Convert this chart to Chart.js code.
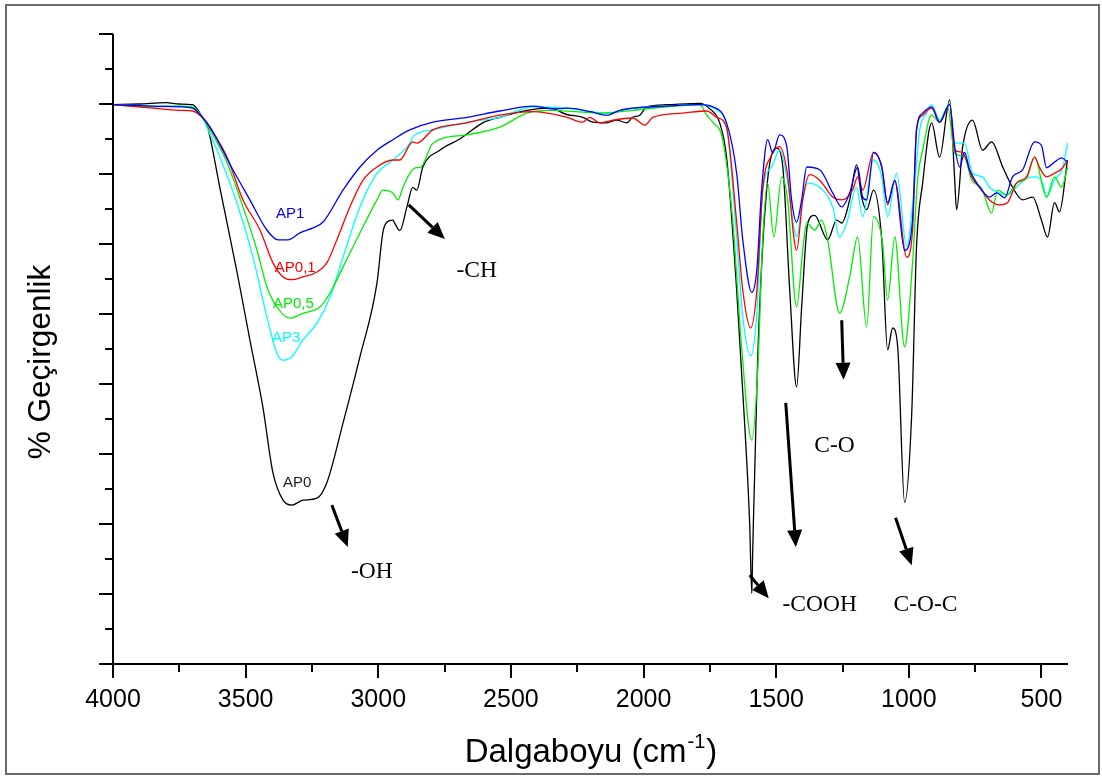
<!DOCTYPE html>
<html><head><meta charset="utf-8">
<script src="https://cdn.jsdelivr.net/npm/chart.js@4/dist/chart.umd.min.js"></script>
<style>html,body{margin:0;padding:0;background:#fff}canvas{display:block}</style>
</head><body>
<canvas id="c" width="1102" height="776"></canvas>
<script>
// ---- data: [wavenumber (cm-1), transmittance (arb. %)] ----
const seriesNames = ["AP1", "AP0,1", "AP0,5", "AP3", "AP0"];
const seriesColors = ["#0000ff", "#ff0000", "#00ee00", "#00ffff", "#000000"];

const AP1 = [[4000,79.9],[3850,79.7],[3750,79.6],[3700,79.4],[3661,78.0],[3634,76.7],[3548,70.6],[3484,66.3],[3420,62.0],[3378,60.6],[3341,60.6],[3295,61.6],[3246,62.3],[3209,63.1],[3133,67.7],[3069,71.0],[3005,73.4],[2945,74.9],[2881,76.3],[2794,77.4],[2666,78.1],[2542,79.0],[2417,79.7],[2340,79.3],[2289,79.4],[2200,78.9],[2139,78.4],[2090,79.1],[2041,79.4],[1913,79.7],[1788,79.9],[1739,79.6],[1687,77.3],[1649,70.1],[1626,60.6],[1592,53.1],[1573,56.3],[1555,67.7],[1532,74.9],[1513,73.0],[1487,75.6],[1460,73.9],[1442,66.3],[1423,63.1],[1404,66.3],[1385,71.0],[1336,70.6],[1287,67.3],[1253,65.3],[1223,67.3],[1193,71.0],[1174,66.7],[1159,66.3],[1133,73.1],[1102,71.0],[1080,65.9],[1053,69.1],[1016,59.1],[986,63.4],[971,76.3],[948,78.7],[914,79.6],[884,77.4],[846,79.9],[827,73.9],[808,71.0],[790,73.1],[771,70.6],[733,68.1],[696,66.7],[669,67.3],[639,66.6],[609,69.6],[571,70.6],[526,74.6],[500,74.1],[481,70.9],[451,71.7],[424,72.3],[402,71.7]];

const AP01 = [[4000,79.9],[3850,79.4],[3750,79.1],[3700,79.0],[3661,78.0],[3634,76.6],[3570,72.4],[3510,66.3],[3446,62.0],[3397,57.3],[3359,55.3],[3326,54.9],[3284,55.3],[3231,56.0],[3194,57.3],[3156,60.6],[3107,65.3],[3058,69.1],[3005,71.0],[2945,72.0],[2919,72.0],[2870,74.6],[2855,74.4],[2794,76.3],[2666,77.3],[2542,78.4],[2417,78.9],[2289,78.1],[2229,77.4],[2203,78.1],[2165,77.3],[2116,77.7],[2041,78.0],[1995,77.0],[1965,78.1],[1852,78.7],[1762,79.0],[1724,78.1],[1687,76.6],[1649,63.1],[1626,53.4],[1596,48.0],[1573,53.4],[1551,67.7],[1517,72.7],[1487,73.9],[1460,70.6],[1423,59.1],[1400,66.3],[1374,69.9],[1336,69.1],[1287,66.7],[1253,66.3],[1212,67.7],[1193,69.6],[1174,67.7],[1133,73.1],[1102,71.0],[1080,65.6],[1053,69.1],[1008,58.1],[986,62.0],[971,76.3],[948,78.4],[914,79.4],[884,77.4],[846,79.9],[827,73.4],[797,73.1],[763,69.6],[733,68.1],[696,66.3],[658,65.6],[628,65.9],[594,68.7],[556,69.6],[526,72.4],[507,70.9],[481,69.6],[451,70.1],[420,70.9],[402,72.0]];

const AP05 = [[4000,79.9],[3850,79.6],[3750,79.7],[3700,79.6],[3661,78.0],[3634,76.3],[3570,71.6],[3510,65.3],[3457,59.1],[3420,53.9],[3382,51.0],[3333,49.4],[3284,50.1],[3220,51.0],[3182,53.0],[3133,56.7],[3069,61.6],[3005,66.3],[2983,67.7],[2945,67.3],[2926,66.3],[2907,68.1],[2881,70.1],[2855,70.9],[2843,70.9],[2794,74.4],[2666,75.6],[2542,76.7],[2440,78.7],[2353,79.1],[2165,78.7],[2041,79.1],[1913,79.6],[1788,79.9],[1762,78.4],[1739,77.4],[1702,74.9],[1664,63.4],[1631,45.6],[1592,32.0],[1570,41.6],[1551,60.6],[1532,68.7],[1509,61.0],[1479,69.6],[1457,66.3],[1423,51.0],[1400,59.1],[1385,63.0],[1355,62.0],[1329,63.4],[1306,60.6],[1261,50.1],[1223,55.3],[1193,61.0],[1159,48.1],[1133,63.9],[1099,60.1],[1080,52.0],[1053,61.0],[1016,45.3],[986,57.3],[967,69.1],[948,73.4],[914,78.4],[884,77.4],[854,79.6],[827,73.0],[790,72.4],[763,69.1],[726,68.0],[688,64.4],[665,67.7],[631,67.0],[594,68.7],[556,69.4],[526,72.4],[481,66.7],[451,69.6],[424,68.1],[402,70.9]];

const AP3 = [[4000,79.9],[3850,79.7],[3750,79.7],[3700,79.4],[3661,78.0],[3646,76.7],[3597,72.4],[3533,65.9],[3472,58.1],[3420,49.6],[3382,44.4],[3359,43.4],[3326,43.9],[3284,46.3],[3231,48.7],[3182,52.4],[3133,58.1],[3069,65.3],[3005,70.1],[2945,72.0],[2881,74.4],[2870,75.3],[2794,76.3],[2666,77.4],[2542,78.1],[2417,79.6],[2289,79.4],[2139,78.7],[2041,79.4],[1913,79.7],[1788,79.9],[1724,79.1],[1687,76.7],[1649,61.0],[1626,49.6],[1596,44.0],[1573,50.1],[1551,67.7],[1517,71.0],[1487,73.4],[1460,69.6],[1423,61.0],[1400,66.3],[1381,68.7],[1336,68.1],[1287,65.3],[1261,61.0],[1234,63.0],[1197,68.1],[1174,63.9],[1133,72.0],[1102,69.6],[1080,63.9],[1046,70.1],[1008,59.6],[978,68.7],[959,76.3],[933,78.7],[914,79.9],[884,77.7],[846,80.1],[827,74.4],[790,74.4],[760,70.1],[722,69.6],[696,68.1],[658,67.3],[631,67.0],[594,68.1],[556,69.4],[518,69.6],[496,68.7],[481,66.7],[451,69.1],[420,70.9],[402,74.4]];

const AP0 = [[4000,79.9],[3900,80.0],[3800,80.2],[3750,80.0],[3700,79.9],[3661,78.0],[3646,77.1],[3597,68.0],[3533,56.1],[3484,46.3],[3435,36.7],[3397,27.3],[3359,23.4],[3326,22.7],[3284,23.4],[3231,23.7],[3194,25.9],[3133,34.4],[3069,43.9],[3005,54.4],[2983,61.6],[2968,63.1],[2945,63.4],[2937,62.9],[2919,61.9],[2892,65.3],[2870,68.1],[2855,67.7],[2832,71.0],[2768,73.4],[2693,75.0],[2606,77.3],[2542,78.1],[2440,79.1],[2353,79.4],[2289,78.5],[2229,78.1],[2191,77.4],[2139,77.3],[2101,77.7],[2063,77.3],[2041,78.1],[2014,78.4],[1988,79.6],[1913,79.9],[1788,80.1],[1750,79.3],[1713,77.3],[1687,72.4],[1649,53.4],[1619,34.4],[1600,20.1],[1592,10.1],[1589,15.3],[1570,43.4],[1536,67.7],[1498,73.7],[1475,71.0],[1449,53.4],[1423,39.6],[1404,51.0],[1381,63.0],[1355,64.1],[1306,60.6],[1272,63.4],[1253,63.0],[1223,66.3],[1197,71.3],[1178,66.7],[1159,64.9],[1133,67.7],[1102,60.6],[1080,44.9],[1061,48.0],[1042,45.3],[1016,23.1],[989,35.9],[971,59.6],[948,68.7],[914,77.3],[884,72.4],[846,80.6],[827,69.1],[820,64.9],[797,73.9],[760,77.7],[722,73.4],[688,74.6],[646,71.0],[609,68.1],[571,66.3],[533,66.7],[500,63.4],[477,61.0],[451,65.9],[432,64.6],[402,72.0]];

const xMajorTicks = [4000, 3500, 3000, 2500, 2000, 1500, 1000, 500];
const xMinorTicks = [3750, 3250, 2750, 2250, 1750, 1250, 750];
const yMajorTicks = [0, 10, 20, 30, 40, 50, 60, 70, 80, 90];
const yMinorTicks = [5, 15, 25, 35, 45, 55, 65, 75, 85];

// series labels [text, wavenumber, value]
const seriesLabels = [["AP1",3386,63.7],["AP0,1",3390,56.0],["AP0,5",3397,50.9],["AP3",3401,46.0],["AP0",3359,25.3]];
// group labels [text, wavenumber (center), value (baseline)]
const groupLabels = [["-CH",2629,55.3],["-OH",3024,12.3],["C-O",1280,30.3],["-COOH",1336,7.6],["C-O-C",937,7.6]];
// arrows [fromWn, fromVal, toWn, toVal]
const arrows = [[2885,65.6,2749,60.7],[3175,22.7,3115,16.7],[1253,49.1,1246,40.6],[1464,37.3,1426,16.7],[1600,12.7,1528,9.4],[1050,20.9,989,14.1]];

const allSeries = [AP1, AP01, AP05, AP3, AP0];

const deco = {
  id: 'deco',
  beforeDraw(chart) {
    const c = chart.ctx;
    c.save(); c.fillStyle = '#fff'; c.fillRect(0, 0, chart.width, chart.height); c.restore();
  },
  afterDraw(chart) {
    const c = chart.ctx, xs = chart.scales.x, ys = chart.scales.y, a = chart.chartArea;
    c.save();
    // frame
    c.strokeStyle = '#6a6a6a'; c.lineWidth = 2;
    c.strokeRect(6, 5, 1093, 769);
    // axes
    c.strokeStyle = '#000'; c.lineWidth = 2;
    c.beginPath();
    c.moveTo(a.left, a.top); c.lineTo(a.left, a.bottom); c.lineTo(a.right, a.bottom);
    yMajorTicks.forEach(v => { const p = Math.round(ys.getPixelForValue(v)); c.moveTo(a.left - 14, p); c.lineTo(a.left, p); });
    yMinorTicks.forEach(v => { const p = Math.round(ys.getPixelForValue(v)); c.moveTo(a.left - 8, p); c.lineTo(a.left, p); });
    xMajorTicks.forEach(v => { const p = Math.round(xs.getPixelForValue(v)); c.moveTo(p, a.bottom); c.lineTo(p, a.bottom + 14); });
    xMinorTicks.forEach(v => { const p = Math.round(xs.getPixelForValue(v)); c.moveTo(p, a.bottom); c.lineTo(p, a.bottom + 8); });
    c.stroke();
    // x tick labels
    c.fillStyle = '#000';
    c.font = '25px "Liberation Sans", Arial, sans-serif';
    c.textAlign = 'center'; c.textBaseline = 'alphabetic';
    xMajorTicks.forEach(v => c.fillText(String(v), xs.getPixelForValue(v), a.bottom + 43));
    // x title with superscript
    const t1 = 'Dalgaboyu (cm', t2 = '-1', t3 = ')';
    const fBig = '33px "Liberation Sans", Arial, sans-serif', fSm = '20px "Liberation Sans", Arial, sans-serif';
    c.font = fBig; const w1 = c.measureText(t1).width, w3 = c.measureText(t3).width;
    c.font = fSm; const w2 = c.measureText(t2).width;
    let x0 = 590 - (w1 + w2 + w3) / 2; const by = 762;
    c.textAlign = 'left';
    c.font = fBig; c.fillText(t1, x0, by);
    c.font = fSm; c.fillText(t2, x0 + w1 + 1, by - 14);
    c.font = fBig; c.fillText(t3, x0 + w1 + w2 + 2, by);
    // y title
    c.save();
    c.translate(41, 362); c.rotate(-Math.PI / 2);
    c.font = '31.5px "Liberation Sans", Arial, sans-serif';
    c.textAlign = 'center'; c.textBaseline = 'middle';
    c.fillText('% Geçirgenlik', 0, 0);
    c.restore();
    // series labels
    c.font = '15px "Liberation Sans", Arial, sans-serif';
    c.textAlign = 'left';
    seriesLabels.forEach((s, i) => {
      c.fillStyle = i === 4 ? '#222' : seriesColors[i];
      c.fillText(s[0], xs.getPixelForValue(s[1]), ys.getPixelForValue(s[2]));
    });
    // group labels
    c.fillStyle = '#000';
    c.font = '23.5px "Liberation Serif", "Times New Roman", serif';
    c.textAlign = 'center';
    groupLabels.forEach(g => c.fillText(g[0], xs.getPixelForValue(g[1]), ys.getPixelForValue(g[2])));
    // arrows
    arrows.forEach(ar => {
      const x1 = xs.getPixelForValue(ar[0]), y1 = ys.getPixelForValue(ar[1]);
      const x2 = xs.getPixelForValue(ar[2]), y2 = ys.getPixelForValue(ar[3]);
      const ang = Math.atan2(y2 - y1, x2 - x1), L = 17, W = 7.5;
      const bx = x2 - L * Math.cos(ang), by2 = y2 - L * Math.sin(ang);
      c.strokeStyle = '#000'; c.lineWidth = 3;
      c.beginPath(); c.moveTo(x1, y1); c.lineTo(bx, by2); c.stroke();
      c.beginPath();
      c.moveTo(x2, y2);
      c.lineTo(bx + W * Math.sin(ang), by2 - W * Math.cos(ang));
      c.lineTo(bx - W * Math.sin(ang), by2 + W * Math.cos(ang));
      c.closePath(); c.fill();
    });
    c.restore();
  }
};

new Chart(document.getElementById('c'), {
  type: 'line',
  data: {
    datasets: allSeries.map((s, i) => ({
      label: seriesNames[i],
      data: s.map(p => ({ x: p[0], y: p[1] })),
      borderColor: seriesColors[i],
      borderWidth: 1.3,
      pointRadius: 0,
      fill: false,
      cubicInterpolationMode: 'monotone'
    }))
  },
  options: {
    responsive: false,
    animation: false,
    devicePixelRatio: 1,
    layout: { padding: { left: 113, right: 34, top: 34, bottom: 112 } },
    scales: {
      x: { type: 'linear', min: 400, max: 4000, reverse: true, display: false },
      y: { type: 'linear', min: 0, max: 90, display: false }
    },
    plugins: { legend: { display: false }, tooltip: { enabled: false } }
  },
  plugins: [deco]
});
</script>
</body></html>
